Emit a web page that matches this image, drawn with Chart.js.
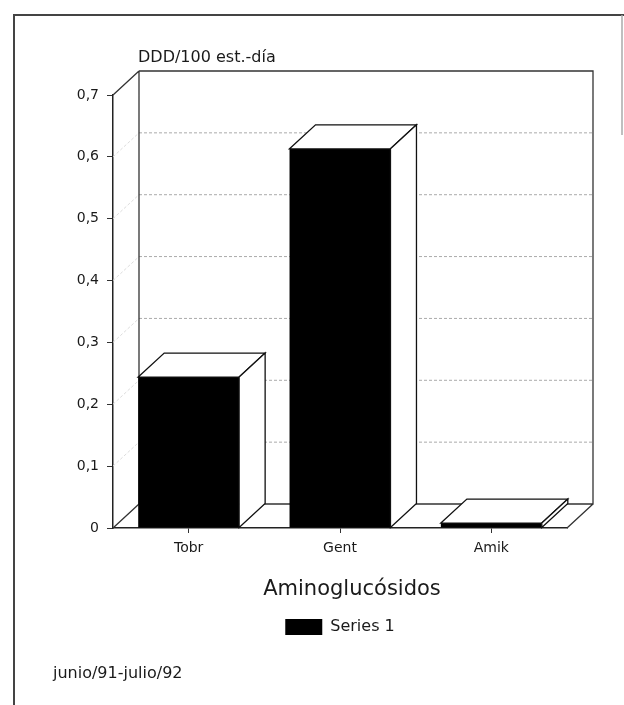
<!DOCTYPE html>
<html>
<head>
<meta charset="utf-8">
<script src="https://cdn.jsdelivr.net/npm/chart.js@4/dist/chart.umd.min.js"></script>
<style>
  body { margin: 0; background: #fff; }
  canvas { display: block; }
</style>
</head>
<body>
<canvas id="chart" width="624" height="705"></canvas>
<script>
// Datos
const categories = ['Tobr', 'Gent', 'Amik'];
const seriesName = 'Series 1';
const values = [0.244, 0.613, 0.008];
const yTicks = [0, 0.1, 0.2, 0.3, 0.4, 0.5, 0.6, 0.7];

const yTitle = 'DDD/100 est.-día';
const xTitle = 'Aminoglucósidos';
const footer = 'junio/91-julio/92';

const FONT = '"DejaVu Sans", sans-serif';
const DX = 26, DY = -24; // profundidad 3D

// Marco, paredes y rejilla en 3D
const box3d = {
  id: 'box3d',
  beforeDraw(chart) {
    const ctx = chart.ctx;
    ctx.save();
    ctx.fillStyle = '#fff';
    ctx.fillRect(0, 0, chart.width, chart.height);
    // marco de la página escaneada
    ctx.strokeStyle = '#444';
    ctx.lineWidth = 2;
    ctx.beginPath();
    ctx.moveTo(14, 705); ctx.lineTo(14, 15); ctx.lineTo(624, 15);
    ctx.stroke();
    ctx.strokeStyle = '#aaa';
    ctx.lineWidth = 1.5;
    ctx.beginPath();
    ctx.moveTo(622, 15); ctx.lineTo(622, 135);
    ctx.stroke();
    ctx.restore();
  },
  beforeDatasetsDraw(chart) {
    const ctx = chart.ctx;
    const a = chart.chartArea;
    const ys = chart.scales.y;
    const L = a.left, R = a.right, T = a.top, B = a.bottom;
    ctx.save();
    // rejilla en la pared del fondo
    ctx.lineWidth = 1;
    ys.ticks.forEach(t => {
      if (t.value === 0 || t.value >= 0.7) return;
      const y = ys.getPixelForValue(t.value);
      ctx.strokeStyle = '#aaa';
      ctx.setLineDash([3, 2]);
      ctx.beginPath();
      ctx.moveTo(L + DX, y + DY); ctx.lineTo(R + DX, y + DY);
      ctx.stroke();
      ctx.strokeStyle = '#ddd';
      ctx.beginPath();
      ctx.moveTo(L, y); ctx.lineTo(L + DX, y + DY);
      ctx.stroke();
    });
    ctx.setLineDash([]);
    ctx.strokeStyle = '#333';
    ctx.lineWidth = 1.3;
    ctx.beginPath();
    // pared izquierda
    ctx.moveTo(L, T); ctx.lineTo(L + DX, T + DY);
    ctx.moveTo(L, B); ctx.lineTo(L + DX, B + DY);
    ctx.moveTo(L + DX, T + DY); ctx.lineTo(L + DX, B + DY);
    // pared del fondo
    ctx.moveTo(L + DX, T + DY); ctx.lineTo(R + DX, T + DY);
    ctx.lineTo(R + DX, B + DY); ctx.lineTo(L + DX, B + DY);
    // suelo
    ctx.moveTo(R, B); ctx.lineTo(R + DX, B + DY);
    ctx.stroke();
    ctx.restore();
  },
  afterDatasetsDraw(chart) {
    const ctx = chart.ctx;
    const meta = chart.getDatasetMeta(0);
    ctx.save();
    ctx.strokeStyle = '#111';
    ctx.lineWidth = 1.3;
    ctx.fillStyle = '#fff';
    meta.data.forEach(bar => {
      const p = bar.getProps(['x', 'y', 'base', 'width'], true);
      const l = p.x - p.width / 2, r = p.x + p.width / 2;
      // cara superior
      ctx.beginPath();
      ctx.moveTo(l, p.y); ctx.lineTo(l + DX, p.y + DY);
      ctx.lineTo(r + DX, p.y + DY); ctx.lineTo(r, p.y);
      ctx.closePath();
      ctx.fill(); ctx.stroke();
      // cara lateral
      ctx.beginPath();
      ctx.moveTo(r, p.y); ctx.lineTo(r + DX, p.y + DY);
      ctx.lineTo(r + DX, p.base + DY); ctx.lineTo(r, p.base);
      ctx.closePath();
      ctx.fill(); ctx.stroke();
    });
    ctx.restore();
  },
  afterDraw(chart) {
    const ctx = chart.ctx;
    ctx.save();
    ctx.fillStyle = '#1a1a1a';
    ctx.textBaseline = 'alphabetic';
    ctx.font = '16px ' + FONT;
    ctx.textAlign = 'left';
    ctx.fillText(yTitle, 138, 62);
    ctx.fillText(footer, 53, 678);
    ctx.font = '21px ' + FONT;
    ctx.textAlign = 'center';
    ctx.fillText(xTitle, 352, 595);
    ctx.restore();
  }
};

new Chart(document.getElementById('chart'), {
  type: 'bar',
  data: {
    labels: categories,
    datasets: [{
      label: seriesName,
      data: values,
      backgroundColor: '#000',
      borderColor: '#000',
      borderWidth: 0,
      categoryPercentage: 1,
      barPercentage: 0.667
    }]
  },
  options: {
    responsive: false,
    animation: false,
    layout: { padding: { top: 95, left: 0, right: 57, bottom: 60 } },
    plugins: {
      title: { display: false },
      tooltip: { enabled: false },
      legend: {
        display: true,
        position: 'bottom',
        fullSize: false,
        labels: {
          boxWidth: 37,
          boxHeight: 16,
          padding: 10,
          color: '#1a1a1a',
          font: { family: FONT, size: 16 }
        }
      }
    },
    scales: {
      x: {
        afterFit(scale) { scale.height = 81; },
        grid: { display: true, offset: false, drawOnChartArea: false, drawTicks: true, tickLength: 5, color: '#333' },
        border: { display: true, color: '#222', width: 1.5 },
        ticks: { color: '#1a1a1a', padding: 7, font: { family: FONT, size: 14 } }
      },
      y: {
        min: 0,
        max: 0.7,
        afterFit(scale) { scale.width = 113; },
        afterBuildTicks(scale) { scale.ticks = yTicks.map(v => ({ value: v })); },
        grid: { display: true, drawOnChartArea: false, drawTicks: true, tickLength: 6, color: '#333' },
        border: { display: true, color: '#222', width: 1.5 },
        ticks: {
          color: '#1a1a1a',
          padding: 8,
          font: { family: FONT, size: 14 },
          callback: v => v === 0 ? '0' : v.toFixed(1).replace('.', ',')
        }
      }
    }
  },
  plugins: [box3d]
});
</script>
</body>
</html>
